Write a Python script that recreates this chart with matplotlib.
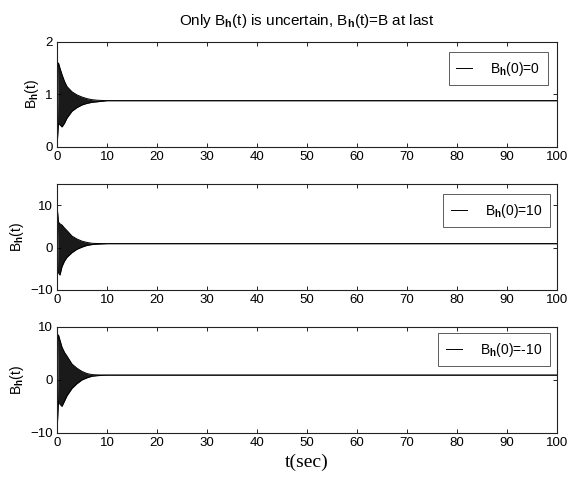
import matplotlib
matplotlib.use("Agg")
import matplotlib.pyplot as plt
import numpy as np

plt.rcParams['font.family'] = ['Liberation Sans', 'DejaVu Sans']
plt.rcParams['mathtext.fontset'] = 'custom'
plt.rcParams['mathtext.rm'] = 'Liberation Sans'
plt.rcParams['mathtext.bf'] = 'Liberation Sans:bold'

# Steady-state value B
B_final = 0.88

# Envelope of the oscillating estimate B_h(t) for each initial value
# (time, upper bound, lower bound)
t_env = [0.0, 0.3, 0.6, 1.0, 1.5, 2.0, 3.0, 4.0, 5.0, 6.0, 7.0, 8.0, 10.0, 100.0]

up_0 = [0.0, 1.60, 1.50, 1.38, 1.25, 1.15, 1.05, 0.99, 0.95, 0.92, 0.90, 0.89, 0.88, 0.88]
lo_0 = [0.0, 0.45, 0.42, 0.38, 0.45, 0.55, 0.68, 0.75, 0.80, 0.83, 0.85, 0.86, 0.88, 0.88]

up_10 = [10.0, 6.0, 5.6, 5.3, 4.6, 4.0, 2.7, 2.0, 1.5, 1.2, 1.0, 0.95, 0.9, 0.9]
lo_10 = [10.0, -6.0, -6.5, -4.5, -3.2, -2.3, -1.2, -0.4, 0.1, 0.5, 0.7, 0.8, 0.9, 0.9]

up_m10 = [-10.0, 8.5, 7.5, 6.2, 5.2, 4.5, 3.0, 2.2, 1.6, 1.2, 1.0, 0.95, 0.9, 0.9]
lo_m10 = [-10.0, -4.0, -4.6, -5.0, -4.0, -3.0, -1.6, -0.7, 0.0, 0.4, 0.7, 0.8, 0.9, 0.9]

BH = r'B_{\mathbf{h}}'
labels = [rf'$\mathregular{{{BH}(0)}}$=0', rf'$\mathregular{{{BH}(0)}}$=10',
          rf'$\mathregular{{{BH}(0)}}$=-10']
ylims = [(0, 2), (-10, 15), (-10, 10)]
yticks = [[0, 1, 2], [-10, 0, 10], [-10, 0, 10]]
envelopes = [(up_0, lo_0), (up_10, lo_10), (up_m10, lo_m10)]

fig = plt.figure(figsize=(5.71, 4.88), dpi=100)
positions = [
    [0.0998, 0.699, 0.8757, 0.215],
    [0.0998, 0.406, 0.8757, 0.217],
    [0.0998, 0.113, 0.8757, 0.217],
]
legend_anchor = [(0.982, 0.905), (0.986, 0.906), (0.986, 0.943)]

for i in range(3):
    ax = fig.add_axes(positions[i])
    up, lo = envelopes[i]
    ax.fill_between(t_env, lo, up, color='#1a1a1a', lw=0)
    ax.plot(t_env, up, color='black', lw=0.7, label=labels[i])
    ax.plot(t_env, lo, color='black', lw=0.7)
    ax.set_xlim(0, 100)
    ax.set_ylim(*ylims[i])
    ax.set_xticks(np.arange(0, 101, 10))
    ax.set_yticks(yticks[i])
    ax.tick_params(direction='in', length=3, width=0.6, labelsize=9.5,
                   top=True, right=True, pad=3, colors='black')
    for s in ax.spines.values():
        s.set_linewidth(0.8)
        s.set_color('#222222')
    ax.set_ylabel(rf'$\mathregular{{{BH}(t)}}$', fontsize=10, labelpad=3)
    leg = ax.legend(loc='upper right', bbox_to_anchor=legend_anchor[i],
                    borderaxespad=0, fontsize=10, frameon=True, fancybox=False,
                    handlelength=1.15, handletextpad=1.3, borderpad=0.55)
    leg.get_frame().set_edgecolor('#333333')
    leg.get_frame().set_linewidth(0.7)
    if i == 0:
        ax.set_title(rf'Only $\mathregular{{{BH}(t)}}$ is uncertain, '
                     rf'$\mathregular{{{BH}(t)}}$=B at last',
                     fontsize=11, pad=12)
    if i == 2:
        ax.set_xlabel('t(sec)', family=['Liberation Serif', 'DejaVu Serif'],
                      fontsize=14, labelpad=3)

fig.savefig('out.png', dpi=100)
